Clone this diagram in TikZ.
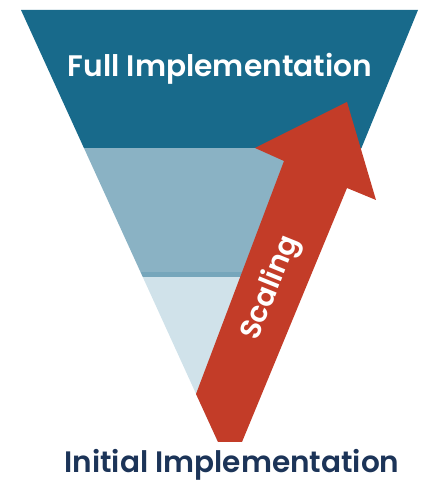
\documentclass[tikz,border=0pt]{standalone}
\usepackage{fontspec}
\setmainfont{Poppins}[BoldFont={Poppins SemiBold}]
\definecolor{darkband}{HTML}{186A8B}
\definecolor{midband}{HTML}{8AB2C4}
\definecolor{sepband}{HTML}{76A6BB}
\definecolor{lightband}{HTML}{D0E2EA}
\definecolor{arrowred}{HTML}{C33C28}
\definecolor{navytext}{HTML}{1C3458}
\tikzset{
  lbl/.style={inner sep=0pt, font=\bfseries},
}
\begin{document}
\begin{tikzpicture}[x=1pt,y=1pt]
\useasboundingbox (0,0) rectangle (421,480);
% funnel bands
\begin{scope}
  \clip (21,470) -- (418,470) -- (241,38) -- (218,38) -- cycle;
  \fill[darkband] (0,332) rectangle (421,480);
  \fill[midband] (0,208) rectangle (421,332);
  \fill[sepband] (0,203) rectangle (421,208);
  \fill[lightband] (0,0) rectangle (421,203);
\end{scope}
% arrow
\fill[arrowred] (196,86) -- (284,319) -- (255,332) -- (347,378) -- (376,280) -- (347,292) -- (242,38) -- (218,38) -- cycle;
% labels
\node[lbl, text=white, anchor=base] (full) at (220,403) {\resizebox{304pt}{!}{Full Implementation}};
\node[lbl, text=navytext, anchor=base] (init) at (232,8) {\resizebox{335pt}{!}{Initial Implementation}};
\node[lbl, text=white, rotate=68, font=\bfseries\fontsize{29}{29}\selectfont] (scal) at (271,192) {Scaling};
\end{tikzpicture}
\end{document}
